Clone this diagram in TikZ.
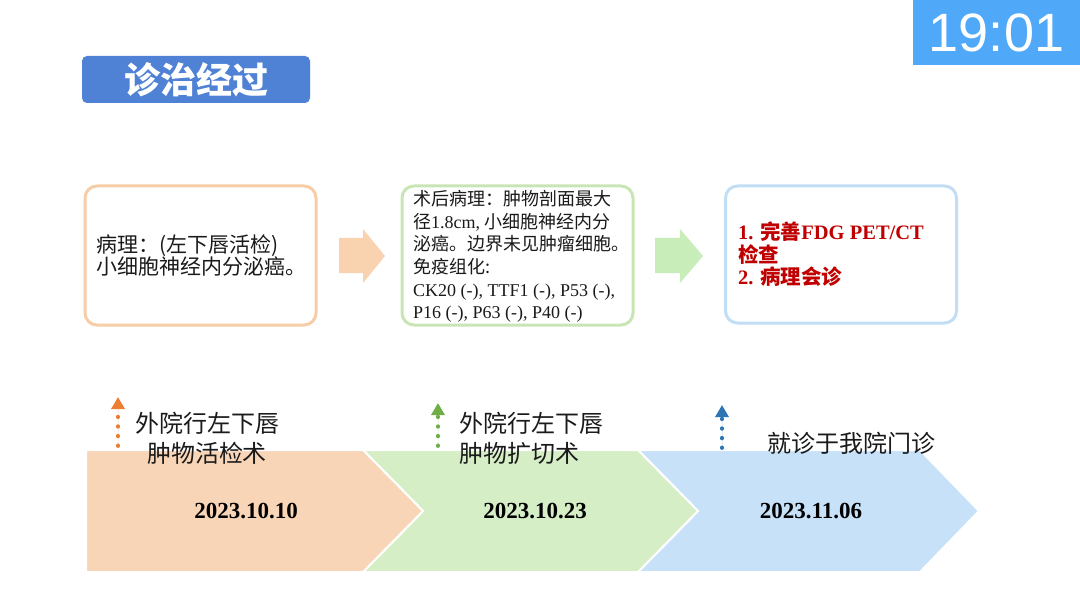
\documentclass[tikz,border=0pt]{standalone}
\usepackage{fontspec}
\setmainfont{Liberation Serif}
\newfontfamily\cjk{Noto Sans CJK SC}
\newfontfamily\arialf{Liberation Sans}
\usetikzlibrary{arrows.meta}
\definecolor{titleblue}{HTML}{4F81D5}
\definecolor{timerblue}{HTML}{4FA8F8}
\definecolor{borderorange}{HTML}{F7CDA8}
\definecolor{bordergreen}{HTML}{C8E6B5}
\definecolor{borderblue}{HTML}{C2DEF5}
\definecolor{blockorange}{HTML}{F9D2B0}
\definecolor{blockgreen}{HTML}{C9EDB9}
\definecolor{chevorange}{HTML}{F9D5B7}
\definecolor{chevgreen}{HTML}{D5EEC6}
\definecolor{chevblue}{HTML}{C6E1F8}
\definecolor{dotorange}{HTML}{ED7D31}
\definecolor{dotgreen}{HTML}{70AD47}
\definecolor{dotblue}{HTML}{2E75B6}
\definecolor{txtred}{HTML}{C00000}
\definecolor{txtdark}{HTML}{1A1A1A}
\tikzset{
  infobox/.style={rounded corners=12pt, line width=3pt, minimum width=231pt, minimum height=139pt, fill=white, inner sep=0pt},
  chev/.style={draw=white, line width=2pt, line join=miter},
  dotarrow/.style={line width=3.8pt, line cap=round, dash pattern=on 0.6pt off 9pt, -{Triangle[length=12pt,width=13pt]}},
  label/.style={font=\cjk\fontsize{24}{30}\selectfont, text=txtdark, inner sep=0pt},
  datetext/.style={font=\bfseries\fontsize{23}{25}\selectfont, text=black, inner sep=0pt},
}
\begin{document}
\begin{tikzpicture}[x=1pt,y=-1pt]
\useasboundingbox (0,0) rectangle (1080,607);
\fill[white] (0,0) rectangle (1080,607);

% title and timer
\node[fill=titleblue, rounded corners=5pt, minimum width=228pt, minimum height=47pt, inner sep=0pt, text=white,
      font=\cjk\bfseries\fontsize{36}{40}\selectfont] (title) at (196,79.5) {诊治经过};
\node[fill=timerblue, minimum width=167pt, minimum height=65pt, inner sep=0pt, text=white,
      font=\arialf\fontsize{54}{60}\selectfont] (timer) at (996.5,32.5) {19:01};

% info boxes
\node[infobox, draw=borderorange] (b1) at (200.5,255.5) {};
\node[infobox, draw=bordergreen] (b2) at (517.5,255.5) {};
\node[infobox, draw=borderblue, minimum height=137pt] (b3) at (841,254.5) {};

\node[anchor=west, align=left, inner sep=0pt, text=txtdark, font=\cjk\fontsize{21}{22}\selectfont] (t1) at (96,255.5)
  {病理：(左下唇活检)\\小细胞神经内分泌癌。};
\node[anchor=west, align=left, inner sep=0pt, text=txtdark, font=\fontsize{18}{22.6}\selectfont] (t2) at (413,256.5)
  {{\cjk 术后病理：肿物剖面最大}\\
   {\cjk 径}1.8cm, {\cjk 小细胞神经内分}\\
   {\cjk 泌癌。边界未见肿瘤细胞。}\\
   {\cjk 免疫组化:}\\
   CK20 (-), TTF1 (-), P53 (-),\\
   P16 (-), P63 (-), P40 (-)};
\node[anchor=west, align=left, inner sep=0pt, text=txtred, font=\bfseries\fontsize{20.5}{22.5}\selectfont] (t3) at (738,254.5)
  {1. {\cjk\bfseries 完善}FDG PET/CT\\{\cjk\bfseries 检查}\\2. {\cjk\bfseries 病理会诊}};

% block arrows between boxes
\fill[blockorange] (339,238) -- (363,238) -- (363,229) -- (385,256) -- (363,283) -- (363,273) -- (339,273) -- cycle;
\fill[blockgreen] (655,238) -- (680,238) -- (680,229) -- (703,256) -- (680,283) -- (680,273) -- (655,273) -- cycle;

% timeline chevrons
\filldraw[chev, fill=chevblue] (638,450) -- (920,450) -- (979,511) -- (920,572) -- (638,572) -- (698,511) -- cycle;
\filldraw[chev, fill=chevgreen] (363,450) -- (638,450) -- (698,511) -- (638,572) -- (363,572) -- (423,511) -- cycle;
\filldraw[chev, fill=chevorange] (86,450) -- (363,450) -- (423,511) -- (363,572) -- (86,572) -- cycle;

\node[datetext] (d1) at (246,511) {2023.10.10};
\node[datetext] (d2) at (535,511) {2023.10.23};
\node[datetext] (d3) at (811,511) {2023.11.06};

% dotted arrows
\coordinate (a1s) at (118,446); \coordinate (a1e) at (118,397);
\coordinate (a2s) at (438,446); \coordinate (a2e) at (438,403);
\coordinate (a3s) at (722,448); \coordinate (a3e) at (722,405);
\draw[dotarrow, draw=dotorange, fill=dotorange] (a1s) -- (a1e);
\draw[dotarrow, draw=dotgreen, fill=dotgreen] (a2s) -- (a2e);
\draw[dotarrow, draw=dotblue, fill=dotblue] (a3s) -- (a3e);

% labels
\node[label, align=center] (l1) at (207,438) {外院行左下唇\\肿物活检术};
\node[label, align=left, anchor=west] (l2) at (459,438) {外院行左下唇\\肿物扩切术};
\node[label] (l3) at (851,443) {就诊于我院门诊};
\end{tikzpicture}
\end{document}
